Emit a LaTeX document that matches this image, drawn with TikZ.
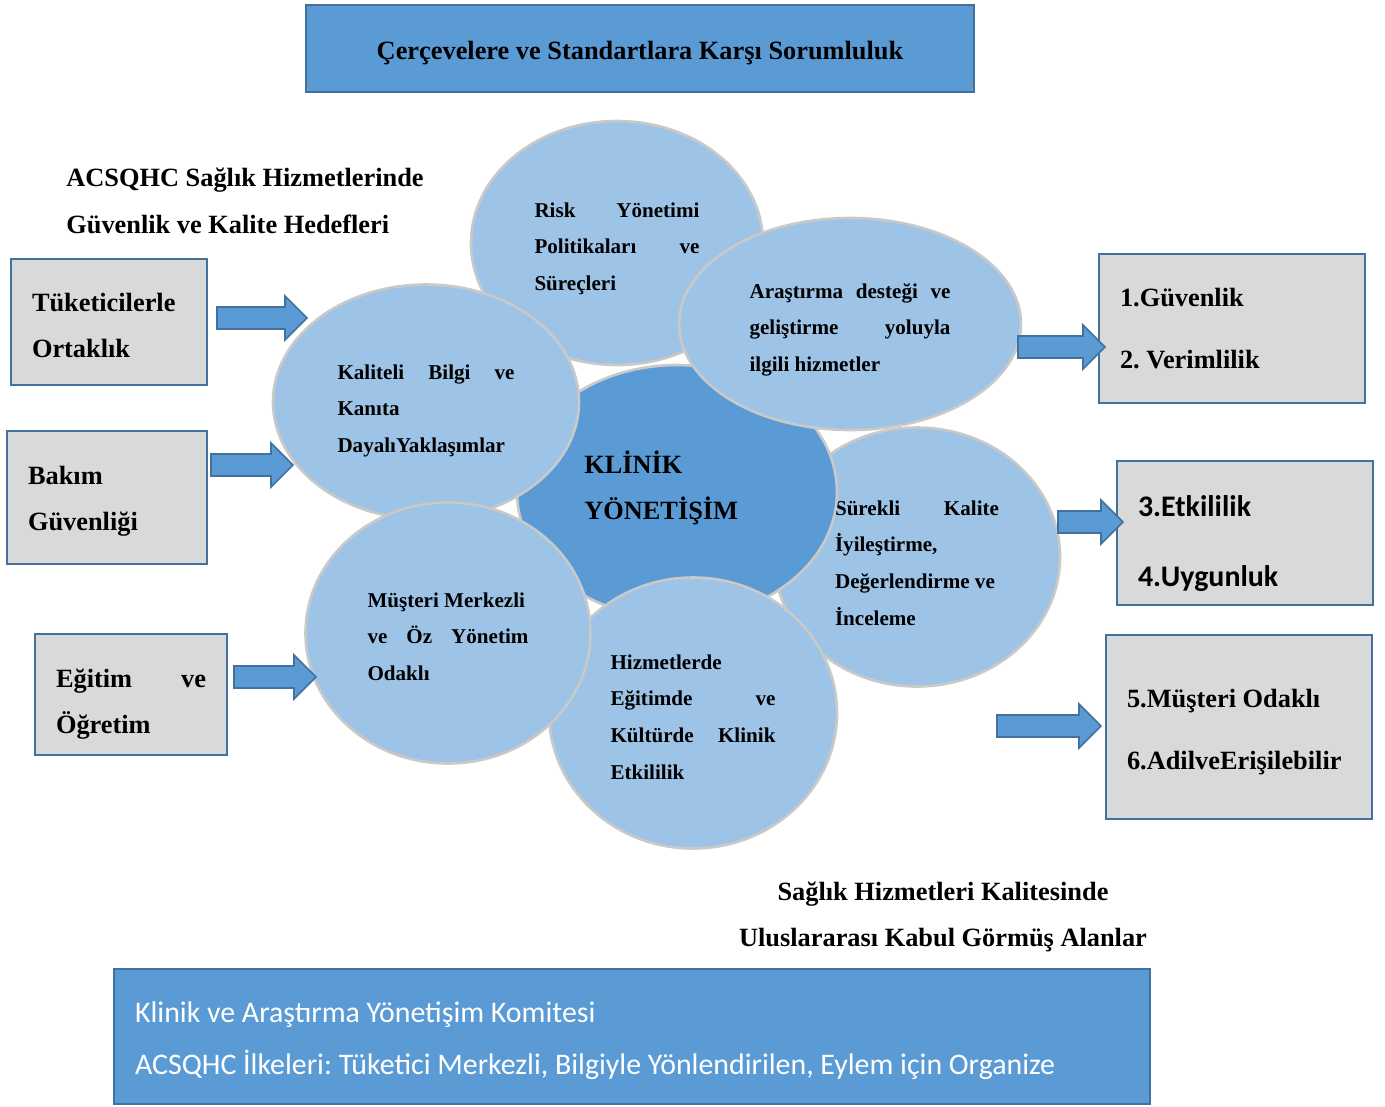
\documentclass[tikz,border=0pt]{standalone}
\usepackage{fontspec}
\setmainfont{Liberation Serif}
\newfontfamily\calibrifont{Carlito}
\usepackage{tikz}
\usetikzlibrary{shapes.geometric}
\frenchspacing

\definecolor{boxblue}{HTML}{5B9BD5}
\definecolor{edgeblue}{HTML}{41719C}
\definecolor{bubbleblue}{HTML}{9DC3E6}
\definecolor{rimgray}{HTML}{C9C9C9}
\definecolor{panelgray}{HTML}{D9D9D9}

% block arrow: start x, tip x, middle y
\newcommand{\fatarrow}[3]{%
  \draw[fat] (#1,{#3-11}) -- ({#2-22},{#3-11}) -- ({#2-22},{#3-22}) -- (#2,#3)
    -- ({#2-22},{#3+22}) -- ({#2-22},{#3+11}) -- (#1,{#3+11}) -- cycle}

\begin{document}
\begin{tikzpicture}[x=0.02cm, y=-0.02cm,
  plainspace/.style={execute at begin node={\spaceskip=0pt\xspaceskip=0pt}},
  lift/.style={text height=0pt, text depth=#1},
  bubble/.style={ellipse, draw=rimgray, line width=1.5pt, fill=bubbleblue,
    inner sep=0pt, align=left, plainspace,
    font=\bfseries\fontsize{12}{21}\selectfont},
  panel/.style={draw=edgeblue, line width=1.1pt, fill=panelgray,
    inner xsep=0.42cm, inner ysep=0pt, align=left, plainspace,
    font=\bfseries\fontsize{15}{26}\selectfont},
  banner/.style={draw=edgeblue, line width=1.1pt, fill=boxblue, plainspace},
  heading/.style={font=\bfseries\fontsize{15}{26.5}\selectfont},
  fat/.style={draw=edgeblue, line width=0.9pt, fill=boxblue}
]
  \useasboundingbox (0,0) rectangle (1385,1106);

  % Top banner
  \node[banner, minimum width=13.36cm, minimum height=1.74cm,
    text height=0.44cm, text depth=0pt,
    font=\bfseries\fontsize{15}{18}\selectfont]
    (title) at (640,48.5) {Çerçevelere ve Standartlara Karşı Sorumluluk};

  % Left heading and goal boxes
  \node[heading, anchor=west, align=left, inner xsep=0pt] (goalhead) at (66,201)
    {ACSQHC Sağlık Hizmetlerinde\\Güvenlik ve Kalite Hedefleri};
  \node[panel, text width=3.08cm, minimum height=2.52cm, lift=0.42cm]
    (consumers) at (109,322) {Tüketicilerle\\Ortaklık};
  \node[panel, text width=3.16cm, minimum height=2.66cm, lift=0.52cm]
    (caresafety) at (107,497.5) {Bakım\\Güvenliği};
  \node[panel, text width=3.0cm, minimum height=2.42cm, lift=0.28cm]
    (education) at (131,694.5) {Eğitim\hfill ve\\Öğretim};

  % Bubbles (back to front)
  \node[bubble, minimum width=5.84cm, minimum height=4.88cm, text width=3.3cm,
    lift=1.04cm]
    (risk) at (617,243) {Risk\hfill Yönetimi\\Politikaları\hfill ve\\Süreçleri};
  \node[bubble, minimum width=5.72cm, minimum height=5.18cm, text width=3.28cm,
    lift=1.68cm]
    (improve) at (917,557)
    {Sürekli\hfill Kalite\\İyileştirme,\\Değerlendirme ve\\İnceleme};
  \node[bubble, fill=boxblue, minimum width=6.4cm, minimum height=5.08cm]
    (core) at (677,492) {};
  \node[anchor=west, align=left, inner xsep=0pt,
    font=\bfseries\fontsize{15}{26}\selectfont]
    (coretext) at (584,488) {KLİNİK\\YÖNETİŞİM};
  \node[bubble, minimum width=6.12cm, minimum height=4.7cm, text width=3.54cm,
    lift=0.92cm]
    (evidence) at (426,402) {Kaliteli\hfill Bilgi\hfill ve\\Kanıta\\DayalıYaklaşımlar};
  \node[bubble, minimum width=6.84cm, minimum height=4.24cm, text width=4.02cm,
    lift=1.04cm]
    (research) at (850,324)
    {Araştırma\hfill desteği\hfill ve\\geliştirme\hfill yoluyla\\ilgili hizmetler};
  \node[bubble, minimum width=5.76cm, minimum height=5.42cm, text width=3.3cm,
    lift=1.76cm]
    (training) at (693,713)
    {Hizmetlerde\\Eğitimde\hfill ve\\Kültürde\hfill Klinik\\Etkililik};
  \node[bubble, minimum width=5.7cm, minimum height=5.22cm, text width=3.22cm,
    lift=1.04cm]
    (customer) at (448,633) {Müşteri Merkezli\\ve\hfill Öz\hfill Yönetim\\Odaklı};

  % Right dimension boxes
  \node[panel, text width=4.48cm, minimum height=2.98cm, lift=0.88cm,
    font=\bfseries\fontsize{15}{35}\selectfont]
    (dim12) at (1232,328.5) {1.Güvenlik\\2. Verimlilik};
  \node[panel, text width=4.28cm, minimum height=2.88cm, lift=0.66cm,
    font=\calibrifont\bfseries\fontsize{17}{40}\selectfont]
    (dim34) at (1245,533) {3.Etkililik\\4.Uygunluk};
  \node[panel, text width=4.48cm, minimum height=3.68cm, lift=0.78cm,
    font=\bfseries\fontsize{15}{35}\selectfont]
    (dim56) at (1239,727) {5.Müşteri Odaklı\\6.AdilveErişilebilir};

  % Arrows
  \fatarrow{217}{307}{318};
  \fatarrow{211}{293}{465};
  \fatarrow{234}{316}{677};
  \fatarrow{1018}{1105}{347};
  \fatarrow{1058}{1123}{522};
  \fatarrow{997}{1101}{726};

  % Bottom heading and committee banner
  \node[heading, align=center] (areahead) at (943,917)
    {Sağlık Hizmetleri Kalitesinde\\Uluslararası Kabul Görmüş Alanlar};
  \node[banner, minimum width=20.72cm, minimum height=2.7cm, text width=19.88cm,
    inner xsep=0.42cm, align=left, text=white, lift=0.58cm,
    font=\calibrifont\fontsize{17}{29.6}\selectfont]
    (committee) at (632,1036.5)
    {Klinik ve Araştırma Yönetişim Komitesi\\
     ACSQHC İlkeleri: Tüketici Merkezli, Bilgiyle Yönlendirilen, Eylem için Organize};
\end{tikzpicture}
\end{document}
